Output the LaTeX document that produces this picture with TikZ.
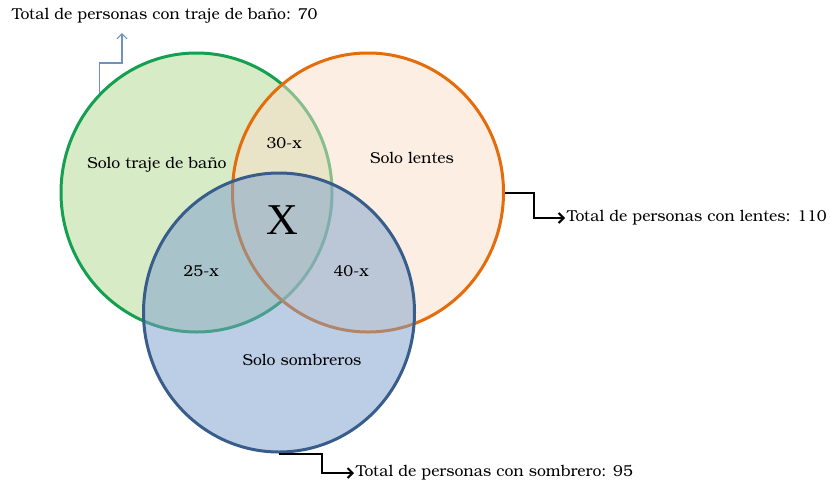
\documentclass[tikz,border=0pt]{standalone}
\usepackage{fontspec}
\setmainfont{TeX Gyre Bonum}
\newfontfamily\xfont{Liberation Serif}
\usetikzlibrary{arrows.meta,shapes.geometric}
\definecolor{gstroke}{RGB}{20,160,80}
\definecolor{gfill}{RGB}{177,217,145}
\definecolor{ostroke}{RGB}{228,108,10}
\definecolor{ofill}{RGB}{251,223,201}
\definecolor{bstroke}{RGB}{56,93,138}
\definecolor{bfill}{RGB}{123,159,205}
\definecolor{garrowc}{RGB}{110,145,190}
\tikzset{
  setshape/.style={ellipse, minimum width=271pt, minimum height=279pt, inner sep=0pt, line width=3pt, fill opacity=0.5, draw opacity=1},
  lbl/.style={font=\fontsize{15.8}{18}\selectfont, inner sep=0pt, text=black},
  total/.style={font=\fontsize{15.8}{18}\selectfont, inner sep=0pt, anchor=west, text=black},
  blackarrow/.style={line width=2pt, -{Straight Barb[length=5pt,width=10pt]}, shorten >=2pt},
  bluearrow/.style={line width=1.1pt, draw=garrowc, {Straight Barb[length=5pt,width=10pt]}-}
}
\begin{document}
\begin{tikzpicture}[x=1pt,y=-1pt]
\useasboundingbox (0,0) rectangle (838,488);
\fill[white] (0,0) rectangle (838,488);
\node[setshape, draw=gstroke, fill=gfill] (G) at (196.5,192.5) {};
\node[setshape, draw=ostroke, fill=ofill] (O) at (368,192.5) {};
\node[setshape, draw=bstroke, fill=bfill] (B) at (279,312.5) {};
\node[lbl] (sg) at (157,165) {Solo traje de baño};
\node[lbl] (g30) at (284,143) {30-x};
\node[lbl] (so) at (412,158) {Solo lentes};
\node[font=\xfont\fontsize{44}{44}\selectfont, inner sep=0pt] (x) at (282,220) {X};
\node[lbl] (g25) at (201,271) {25-x};
\node[lbl] (g40) at (351,271) {40-x};
\node[lbl] (sb) at (302,360) {Solo sombreros};
\node[total] (gt) at (12,16) {Total de personas con traje de baño: 70};
\node[total] (ot) at (567,218) {Total de personas con lentes: 110};
\node[total] (bt) at (356,473) {Total de personas con sombrero: 95};
\coordinate (gtip) at (122,33);
\draw[bluearrow] (gtip) -- ++(0,30) -| (G.134);
\draw[blackarrow] (O.east) -- ++(29,0) |- (ot.west);
\draw[blackarrow] (B.south) -- ++(43,0) |- (bt.west);
\end{tikzpicture}
\end{document}
